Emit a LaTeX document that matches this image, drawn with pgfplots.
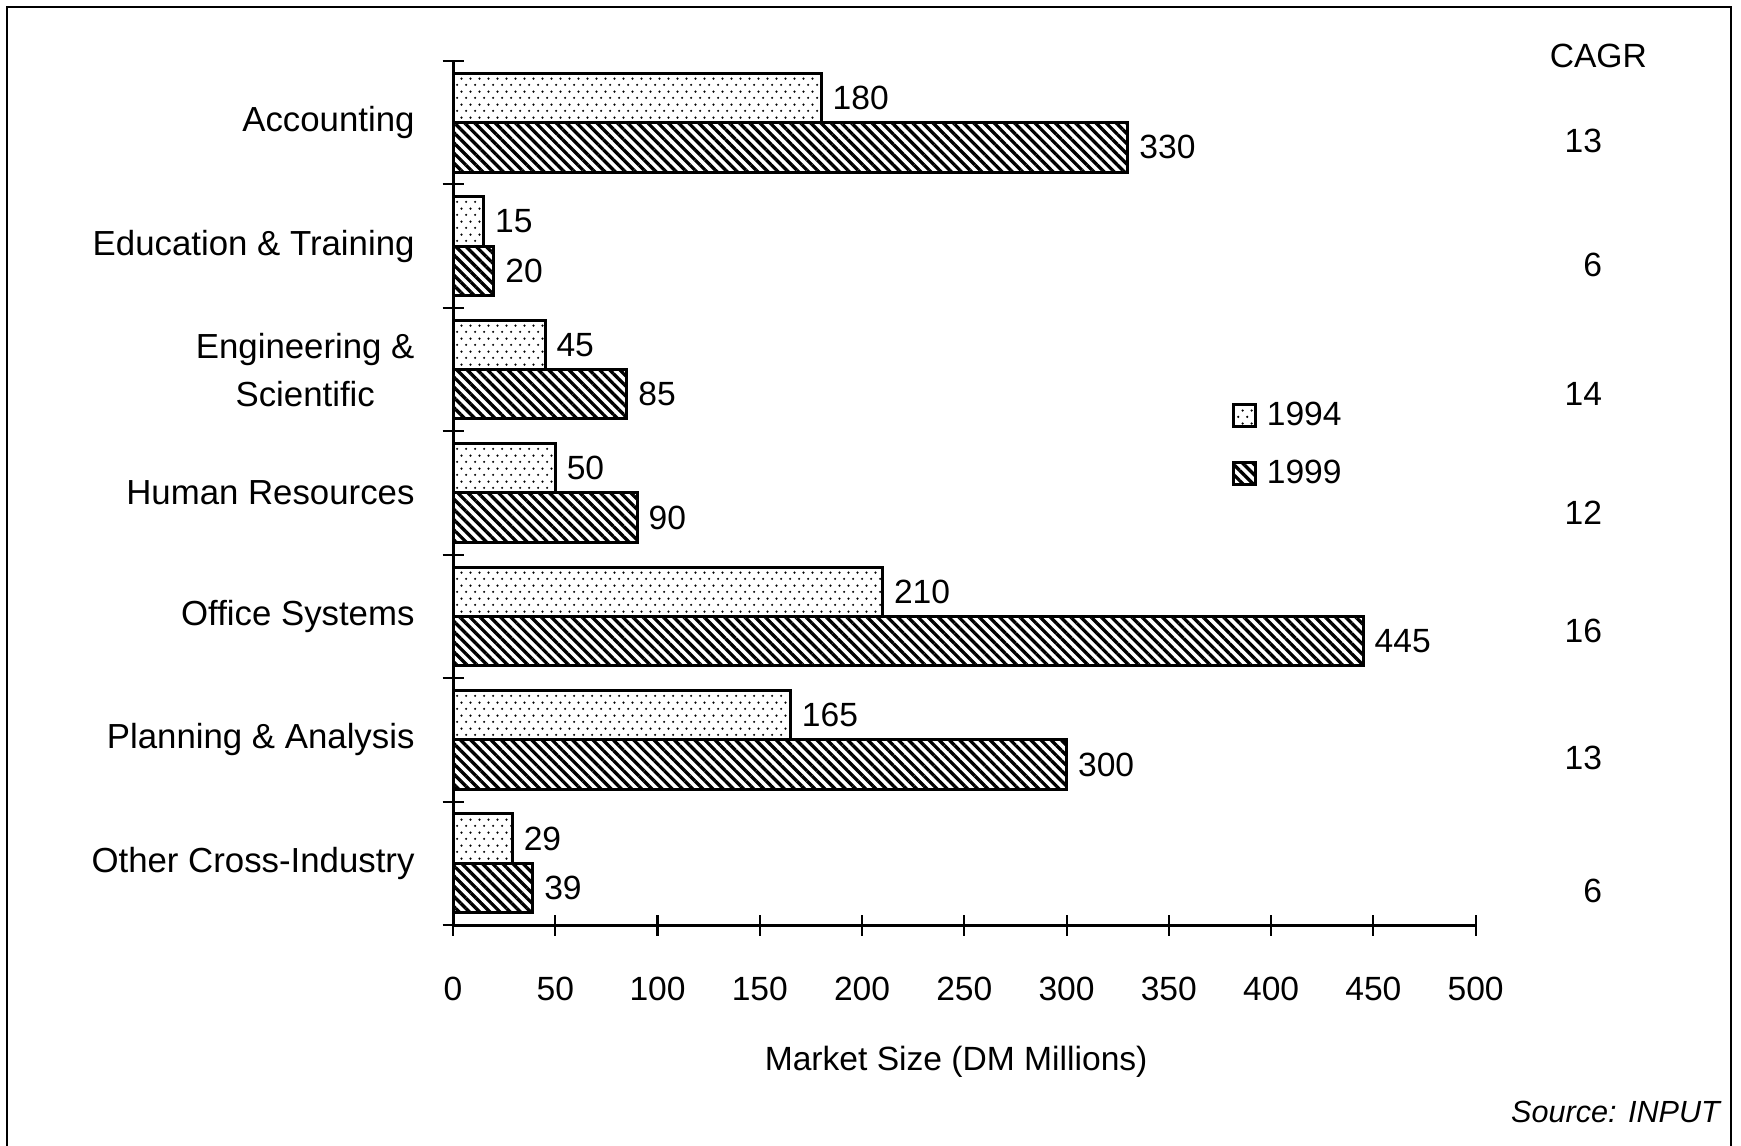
\documentclass[border=0pt]{standalone}
\usepackage{pgfplots}
\pgfplotsset{compat=1.18}
\usepackage{fontspec}
\setmainfont{Liberation Sans}
\usetikzlibrary{patterns,patterns.meta}
\newcommand{\fs}{\fontsize{11.2}{13.4}\selectfont}
\newcommand{\fl}{\fontsize{11.6}{16}\selectfont}
\pgfdeclarepattern{
  name=mydots, type=uncolored,
  bottom left={\pgfpointorigin}, top right={\pgfpoint{3.1pt}{4.4pt}},
  tile size={\pgfpoint{3.1pt}{4.4pt}},
  code={\pgfpathcircle{\pgfpoint{0.775pt}{1.1pt}}{0.42pt}\pgfpathcircle{\pgfpoint{2.325pt}{3.3pt}}{0.42pt}\pgfusepath{fill}}
}
\begin{document}
\begin{tikzpicture}
\draw[line width=0.9pt] (2.33pt,-2.33pt) rectangle (577pt,-400pt);
\begin{axis}[
  at={(151pt,-308.33pt)}, anchor=south west,
  width=340.87pt, height=288pt, scale only axis,
  xmin=0, xmax=500, ymin=-0.5, ymax=6.5,
  axis x line*=bottom, axis y line*=left,
  axis line style={line width=1pt,-},
  xbar, bar width=0.4,
  clip=false,
  /pgf/number format/assume math mode=true,
  xtick={0,50,100,150,200,250,300,350,400,450,500},
  ytick={-0.5,0.5,1.5,2.5,3.5,4.5,5.5,6.5},
  yticklabels={},
  extra y ticks={0,1,2,3,4,5,6},
  extra y tick labels={Other Cross-Industry,Planning \& Analysis,Office Systems,Human Resources,Engineering \&\\Scientific,Education \& Training,Accounting},
  extra y tick style={major tick length=0pt, tick style={draw=none},
    yticklabel style={font=\fl, align=center, xshift=-9.3pt}},
  tick align=center,
  major tick length=7pt,
  tick style={line width=0.7pt, black},
  tick label style={font=\fs},
  xticklabel style={yshift=-10.4pt},
  xlabel={Market Size (DM Millions)},
  xlabel style={at={(axis description cs:0.492,0)}, anchor=center, yshift=-45.5pt, font=\fs},
  nodes near coords,
  every node near coord/.append style={anchor=west, font=\fs, black},
  legend image code/.code={\draw[#1, line width=1pt] (0pt,-3.7pt) rectangle (7.4pt,3.7pt); \path (8.6pt,0pt);},
  legend style={at={(axis cs:376.2,3.84)}, anchor=north west, draw=none, fill=none, font=\fs, row sep=5.9pt},
  legend cell align=left,
]
\addplot[draw=black, line width=1pt, pattern=mydots, bar shift=0.2] coordinates {
  (180,6) (15,5) (45,4) (50,3) (210,2) (165,1) (29,0)};
\addplot[draw=black, line width=1pt, pattern={Lines[angle=-45,distance=2.4pt,line width=1.1pt]}, bar shift=-0.2] coordinates {
  (330,6) (20,5) (85,4) (90,3) (445,2) (300,1) (39,0)};
\legend{1994,1999}
\node[font=\fs] at (axis cs:560,6.545) {CAGR};
\node[anchor=east, font=\fs] at (axis cs:567,5.85) {13};
\node[anchor=east, font=\fs] at (axis cs:567,4.85) {6};
\node[anchor=east, font=\fs] at (axis cs:567,3.80) {14};
\node[anchor=east, font=\fs] at (axis cs:567,2.84) {12};
\node[anchor=east, font=\fs] at (axis cs:567,1.88) {16};
\node[anchor=east, font=\fs] at (axis cs:567,0.85) {13};
\node[anchor=east, font=\fs] at (axis cs:567,-0.22) {6};
\end{axis}
\node[anchor=east, font=\itshape\fontsize{10.2}{12}\selectfont] at (576.8pt,-370.7pt) {Source: INPUT};
\pgfresetboundingbox
\path[use as bounding box] (0pt,0pt) rectangle (580.33pt,-381.67pt);
\end{tikzpicture}
\end{document}
